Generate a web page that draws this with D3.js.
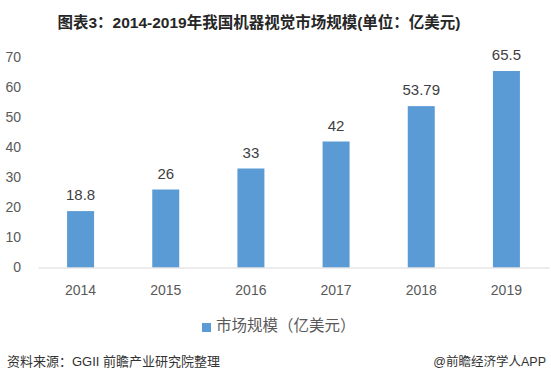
<!DOCTYPE html>
<html><head><meta charset="utf-8">
<script src="https://cdn.jsdelivr.net/npm/d3@7"></script>
<style>body{margin:0;background:#fff}svg{display:block}</style>
</head><body><svg id="c" width="551" height="381"></svg>
<script>
const years = ["2014","2015","2016","2017","2018","2019"];
const values = [18.8, 26, 33, 42, 53.79, 65.5];
const valueLabels = ["18.8","26","33","42","53.79","65.5"];
const yTicks = [0,10,20,30,40,50,60,70];
const title = "图表3：2014-2019年我国机器视觉市场规模(单位：亿美元)";
const legendLabel = "市场规模（亿美元）";
const sourceText = "资料来源：GGII 前瞻产业研究院整理";
const brandText = "@前瞻经济学人APP";

const font = "'Liberation Sans','Noto Sans CJK SC',sans-serif";
const svg = d3.select("#c");
const x = d3.scaleBand().domain(years).range([38, 549]).padding(0);
const y = d3.scaleLinear().domain([0, 70]).range([267.5, 57.5]);
const barW = x.bandwidth() * 0.317;

svg.append("text").attr("x", 259).attr("y", 28).attr("text-anchor", "middle")
  .attr("font-family", font).attr("font-weight", "bold").attr("font-size", 15.5)
  .attr("fill", "#262626").text(title);

// y axis labels
const yAxis = d3.axisLeft(y).tickValues(yTicks).tickSize(0).tickPadding(0);
const gy = svg.append("g").attr("transform", "translate(21,0)").call(yAxis);
gy.select(".domain").remove();
gy.selectAll("text").attr("font-family", font).attr("font-size", 14).attr("fill", "#595959");

// bars
svg.selectAll("rect.bar").data(values).join("rect").attr("class", "bar")
  .attr("x", (d, i) => x(years[i]) + x.bandwidth() / 2 - barW / 2)
  .attr("y", d => y(d)).attr("width", barW).attr("height", d => y(0) - y(d))
  .attr("fill", "#5b9bd5");

// x axis
const xAxis = d3.axisBottom(x).tickSize(0).tickPadding(0);
const gx = svg.append("g").attr("transform", `translate(0,${y(0)})`).call(xAxis);
gx.select(".domain").attr("stroke", "#d9d9d9").attr("stroke-width", 1.2);
gx.selectAll("text").attr("font-family", font).attr("font-size", 14).attr("fill", "#595959")
  .attr("dy", null).attr("y", 27);

// value labels
svg.selectAll("text.val").data(values).join("text").attr("class", "val")
  .attr("x", (d, i) => x(years[i]) + x.bandwidth() / 2).attr("y", d => y(d) - 11)
  .attr("text-anchor", "middle").attr("font-family", font).attr("font-size", 15)
  .attr("fill", "#404040").text((d, i) => valueLabels[i]);

// legend
svg.append("rect").attr("x", 202).attr("y", 323).attr("width", 9).attr("height", 9).attr("fill", "#5b9bd5");
svg.append("text").attr("x", 216).attr("y", 331).attr("font-family", font).attr("font-size", 15.5)
  .attr("fill", "#595959").text(legendLabel);

// footer
svg.append("text").attr("x", 7).attr("y", 366).attr("font-family", font).attr("font-size", 13)
  .attr("fill", "#333").text(sourceText);
svg.append("text").attr("x", 546).attr("y", 366).attr("text-anchor", "end").attr("font-family", font)
  .attr("font-size", 12.5).attr("fill", "#333").text(brandText);
</script></body></html>
